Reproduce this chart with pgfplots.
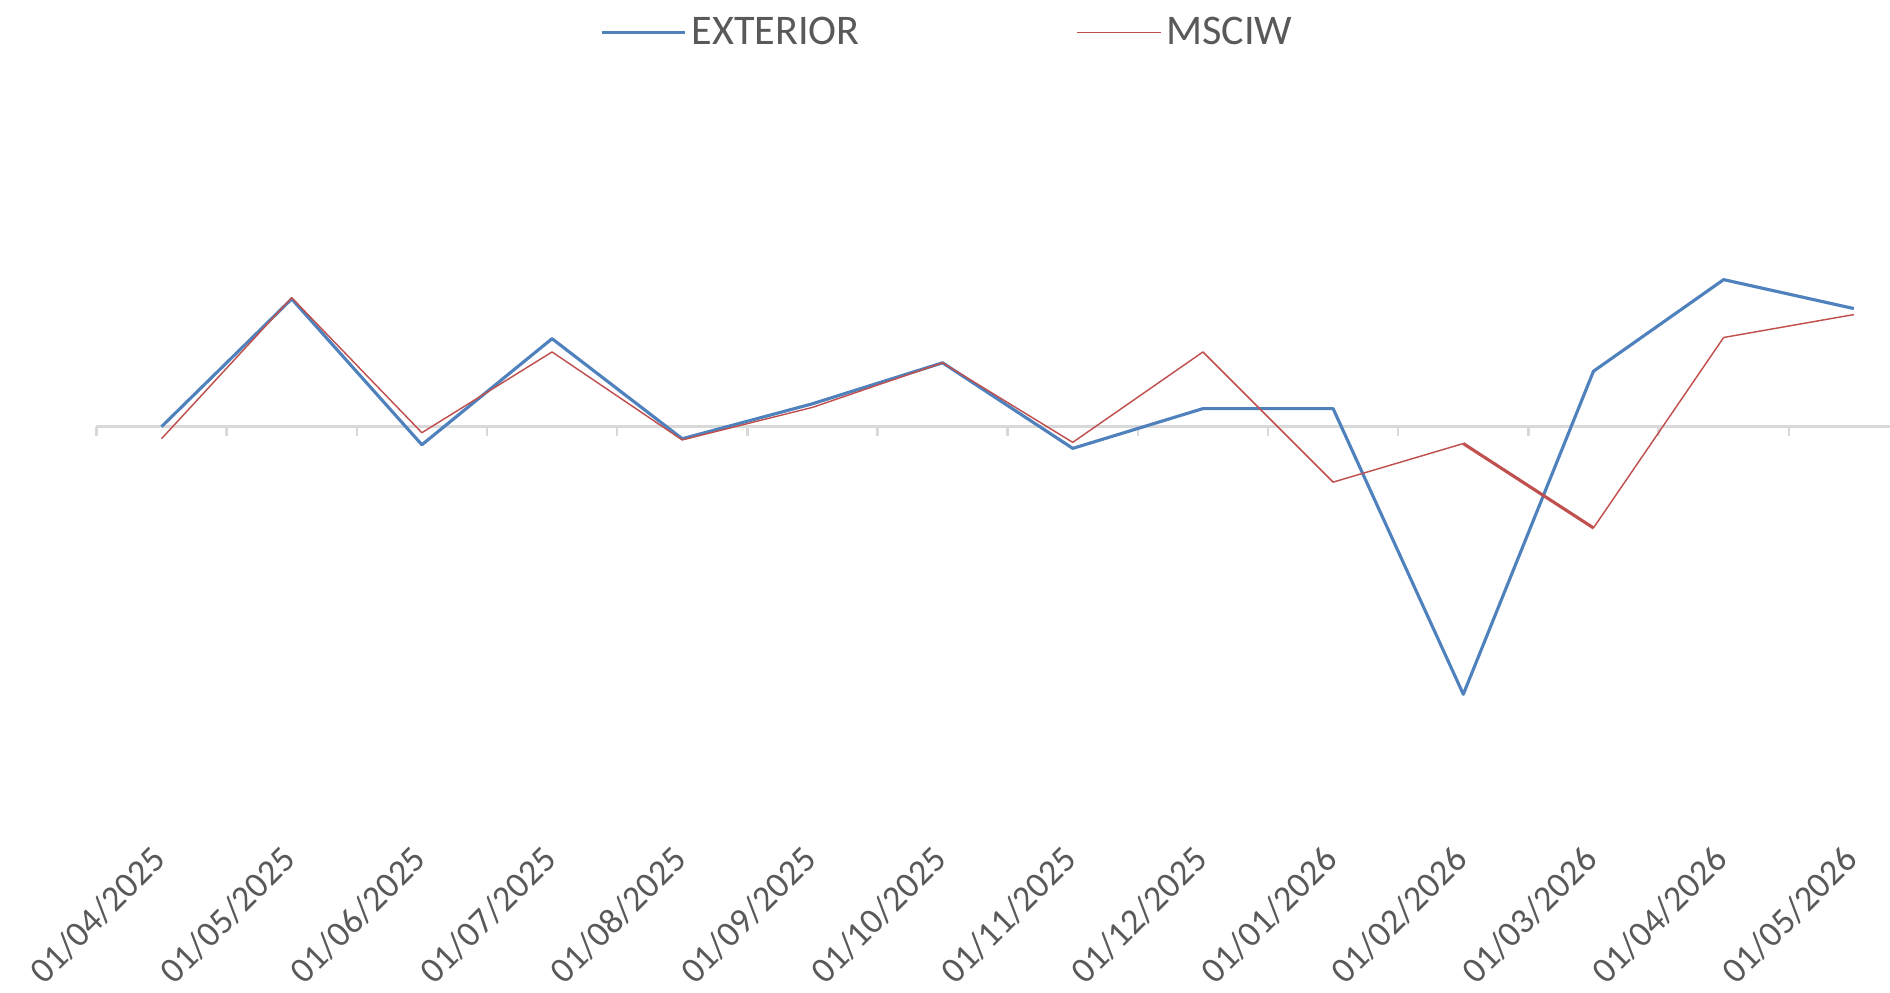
\documentclass[border=0pt]{standalone}
\usepackage{pgfplots}
\pgfplotsset{compat=1.18}
\usepackage{fontspec}
\setmainfont{Carlito}
\definecolor{extc}{HTML}{4F81BD}
\definecolor{msc}{HTML}{C0504D}
\definecolor{txt}{HTML}{595959}
\definecolor{axc}{HTML}{D9D9D9}
\begin{document}
\begin{tikzpicture}
\begin{axis}[
  at={(0pt,63pt)}, anchor=south west,
  scale only axis, width=784pt, height=348.5pt,
  xmin=-1.2407, xmax=13.278, ymin=-343, ymax=354,
  hide y axis,
  axis x line*=bottom, x axis line style={draw=none},
  xtick={-0.09,0.91,1.91,2.91,3.91,4.91,5.91,6.91,7.91,8.91,9.91,10.91,11.91,12.91},
  xticklabels={01/04/2025,01/05/2025,01/06/2025,01/07/2025,01/08/2025,01/09/2025,01/10/2025,01/11/2025,01/12/2025,01/01/2026,01/02/2026,01/03/2026,01/04/2026,01/05/2026},
  major tick length=0,
  xticklabel style={rotate=45, anchor=north east, font=\fontsize{15}{15}\selectfont, text=txt, inner sep=1pt},
  legend style={at={(0.502,0.961)}, anchor=center, draw=none, fill=none, font=\fontsize{17.5}{17.5}\selectfont, text=txt, legend columns=2, /tikz/every odd column/.append style={column sep=0pt}, /tikz/every even column/.append style={column sep=88pt}},
  legend cell align=left,
  legend image code/.code={\draw[#1] (0pt,0pt) -- (34.5pt,0pt);},
]
\draw[axc, line width=1pt] (axis cs:-0.5,0) -- (axis cs:13.278,0);
\pgfplotsinvokeforeach{-0.5,0.5,1.5,2.5,3.5,4.5,5.5,6.5,7.5,8.5,9.5,10.5,11.5,12.5}{
  \draw[axc, line width=1pt] (axis cs:#1,0) -- ++(0pt,-4pt);
}
\addplot[extc, line width=1.3pt, line join=round] coordinates {(0,0)(1,106)(2,-15)(3,73)(4,-10)(5,19)(6,53)(7,-18)(8,15)(9,15)(10,-222)(11,46)(12,122)(13,98)};
\addlegendentry{EXTERIOR}
\addplot[msc, line width=0.6pt, line join=round] coordinates {(0,-10)(1,107)(2,-5)(3,62)(4,-11)(5,16)(6,53)(7,-13)(8,62)(9,-46)(10,-14)(11,-84)(12,74)(13,93)};
\addlegendentry{MSCIW}
\addplot[msc, line width=1.3pt, forget plot] coordinates {(10,-14)(11,-84)};
\end{axis}
\pgfresetboundingbox
\path (0pt,0pt) rectangle (784pt,411.5pt);
\end{tikzpicture}
\end{document}
